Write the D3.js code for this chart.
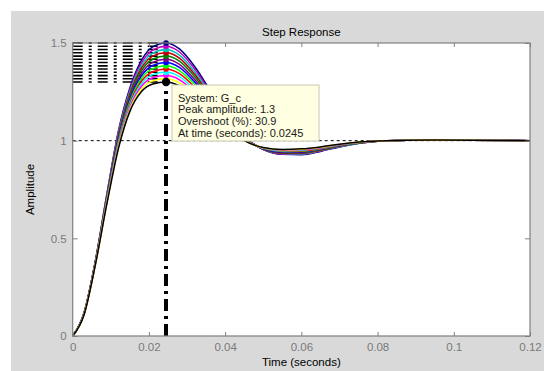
<!DOCTYPE html>
<html>
<head>
<meta charset="utf-8">
<script src="https://cdn.jsdelivr.net/npm/d3@7"></script>
<style>
  body { margin: 0; background: #fff; }
  svg { display: block; font-family: "Liberation Sans", Arial, sans-serif; }
</style>
</head>
<body>
<svg id="chart" width="544" height="371"></svg>
<script>
// time samples (seconds), shared by every response
const times = [0, 0.003, 0.006, 0.009, 0.012, 0.015, 0.018, 0.021, 0.0245, 0.028, 0.032,
               0.036, 0.040, 0.045, 0.050, 0.055, 0.060, 0.065, 0.070, 0.080, 0.095, 0.120];

// step responses, lowest peak first
const responses = [
  [0,.110,.370,.680,.960,1.150,1.250,1.290,1.300,1.280,1.220,1.140,1.070,1.000,.965,.955,.958,.968,.982,.998,1.003,1.000],
  [0,.111,.372,.684,.968,1.160,1.263,1.306,1.317,1.296,1.233,1.150,1.076,1.002,.964,.953,.956,.966,.981,.998,1.003,1.000],
  [0,.112,.373,.688,.975,1.170,1.277,1.322,1.333,1.312,1.247,1.160,1.082,1.003,.963,.951,.953,.964,.980,.998,1.003,1.000],
  [0,.113,.375,.693,.983,1.180,1.290,1.338,1.350,1.328,1.260,1.170,1.088,1.005,.962,.949,.951,.962,.979,.998,1.004,1.000],
  [0,.113,.377,.697,.990,1.190,1.303,1.353,1.367,1.343,1.273,1.180,1.093,1.007,.962,.947,.948,.960,.977,.998,1.004,1.000],
  [0,.114,.378,.701,.998,1.200,1.317,1.369,1.383,1.359,1.287,1.190,1.099,1.008,.961,.945,.946,.958,.976,.998,1.004,1.000],
  [0,.115,.380,.705,1.005,1.210,1.330,1.385,1.400,1.375,1.300,1.200,1.105,1.010,.960,.943,.943,.957,.975,.998,1.004,1.000],
  [0,.116,.382,.709,1.013,1.220,1.343,1.401,1.417,1.391,1.313,1.210,1.111,1.012,.959,.940,.941,.955,.974,.998,1.004,1.000],
  [0,.117,.383,.713,1.020,1.230,1.357,1.417,1.433,1.407,1.327,1.220,1.117,1.013,.958,.938,.938,.953,.973,.997,1.004,1.000],
  [0,.118,.385,.718,1.028,1.240,1.370,1.433,1.450,1.423,1.340,1.230,1.123,1.015,.957,.936,.936,.951,.972,.997,1.005,1.000],
  [0,.118,.387,.722,1.035,1.250,1.383,1.448,1.467,1.438,1.353,1.240,1.128,1.017,.957,.934,.933,.949,.970,.997,1.005,1.000],
  [0,.119,.388,.726,1.043,1.260,1.397,1.464,1.483,1.454,1.367,1.250,1.134,1.018,.956,.932,.931,.947,.969,.997,1.005,1.000],
  [0,.120,.390,.730,1.050,1.270,1.410,1.480,1.500,1.470,1.380,1.260,1.140,1.020,.955,.930,.928,.945,.968,.997,1.005,1.000]
];
const peakIndex = 8;   // where every response peaks (t = 0.0245 s)
const steadyState = 1;

const colors = ["#000000", "#ffff00", "#ff00ff", "#00ffff", "#ff0000", "#00ff00", "#0000ff",
                "#800080", "#008000", "#c00000", "#00c0c0", "#c000c0", "#000080"];

const xTicks = [0, 0.02, 0.04, 0.06, 0.08, 0.1, 0.12];
const xTickLabels = ["0", "0.02", "0.04", "0.06", "0.08", "0.1", "0.12"];
const yTicks = [0, 0.5, 1, 1.5];
const yTickLabels = ["0", "0.5", "1", "1.5"];

const tipLines = ["System: G_c", "Peak amplitude: 1.3", "Overshoot (%): 30.9", "At time (seconds): 0.0245"];

let svg = d3.select("#chart");

// figure background
svg.append("rect").attr("x", 11).attr("y", 11).attr("width", 533).attr("height", 360).attr("fill", "#d9d9d9");

let margin = {left: 72.7, top: 43, right: 530, bottom: 336};

let x = d3.scaleLinear().domain([0, 0.12]).range([margin.left, margin.right]);
let y = d3.scaleLinear().domain([0, 1.5]).range([margin.bottom, margin.top]);

svg.append("rect")
    .attr("x", margin.left).attr("y", margin.top)
    .attr("width", margin.right - margin.left).attr("height", margin.bottom - margin.top)
    .attr("fill", "#fff");

// steady state line
svg.append("line")
    .attr("x1", x(0)).attr("x2", x(0.12))
    .attr("y1", y(steadyState)).attr("y2", y(steadyState))
    .attr("stroke", "#000").attr("stroke-width", 1).attr("stroke-dasharray", "3,3");

// peak response guide lines
let peakT = times[peakIndex];
for (let r of responses) {
    svg.append("line")
        .attr("x1", x(0)).attr("x2", x(peakT))
        .attr("y1", y(r[peakIndex])).attr("y2", y(r[peakIndex]))
        .attr("stroke", "#000").attr("stroke-width", 1.6)
        .attr("stroke-dasharray", "10,6,3,6");
    svg.append("line")
        .attr("x1", x(peakT)).attr("x2", x(peakT))
        .attr("y1", y(0)).attr("y2", y(r[peakIndex]))
        .attr("stroke", "#000").attr("stroke-width", 3.5)
        .attr("stroke-dasharray", "12,5,3,5");
}

let line = d3.line()
    .curve(d3.curveMonotoneX)
    .x((d, i) => x(times[i]))
    .y(d => y(d));

// draw the highest peak first so that the low curves sit on top
for (let i = responses.length - 1; i >= 0; i--) {
    svg.append("path")
        .datum(responses[i])
        .attr("fill", "none")
        .attr("stroke", colors[i])
        .attr("stroke-width", 1.5)
        .attr("stroke-linejoin", "round")
        .attr("d", line);
}

// peak markers
svg.selectAll("circle.peak")
    .data(responses)
  .enter()
    .append("circle")
    .attr("class", "peak")
    .attr("r", 2.8)
    .attr("fill", (d, i) => colors[i])
    .attr("cx", x(peakT))
    .attr("cy", d => y(d[peakIndex]));

// axes (ticks point inward)
let xAxis = svg.append("g")
    .attr("transform", "translate(0," + margin.bottom + ")")
    .call(d3.axisBottom(x).tickValues(xTicks).tickSize(-4).tickPadding(7)
        .tickFormat((d, i) => xTickLabels[i]));
let xAxisTop = svg.append("g")
    .attr("transform", "translate(0," + margin.top + ")")
    .call(d3.axisTop(x).tickValues(xTicks).tickSize(-4).tickFormat(""));
let yAxis = svg.append("g")
    .attr("transform", "translate(" + margin.left + ",0)")
    .call(d3.axisLeft(y).tickValues(yTicks).tickSize(-5).tickPadding(6)
        .tickFormat((d, i) => yTickLabels[i]));
let yAxisRight = svg.append("g")
    .attr("transform", "translate(" + margin.right + ",0)")
    .call(d3.axisRight(y).tickValues(yTicks).tickSize(-5).tickFormat(""));

for (let g of [xAxis, xAxisTop, yAxis, yAxisRight]) {
    g.select(".domain").remove();
    g.selectAll(".tick line").attr("stroke", "#808080");
    g.selectAll(".tick text").attr("fill", "#7a7a7a").style("font-size", "11.5px")
        .style("font-family", "'Liberation Sans', Arial, sans-serif");
}

// frame
svg.append("rect")
    .attr("x", margin.left).attr("y", margin.top)
    .attr("width", margin.right - margin.left).attr("height", margin.bottom - margin.top)
    .attr("fill", "none").attr("stroke", "#7f7f7f").attr("stroke-width", 1.2);

// selected point and data tip
let selected = responses[0];
svg.append("circle")
    .attr("cx", x(peakT)).attr("cy", y(selected[peakIndex]))
    .attr("r", 4.2).attr("fill", "#000");

let tip = svg.append("g").attr("transform", "translate(172,85)");
tip.append("rect")
    .attr("width", 147).attr("height", 56)
    .attr("fill", "#ffffe1").attr("stroke", "#c8c8b4").attr("stroke-width", 1);
tip.selectAll("text")
    .data(tipLines)
  .enter()
    .append("text")
    .attr("x", 6)
    .attr("y", (d, i) => 16.5 + i * 11.8)
    .attr("fill", "#1a1a1a")
    .style("font-size", "11px")
    .text(d => d);

// titles
svg.append("text")
    .attr("x", (margin.left + margin.right) / 2).attr("y", 36)
    .attr("text-anchor", "middle").style("font-size", "11.5px").attr("fill", "#000")
    .text("Step Response");
svg.append("text")
    .attr("x", (margin.left + margin.right) / 2).attr("y", 366)
    .attr("text-anchor", "middle").style("font-size", "11.5px").attr("fill", "#000")
    .text("Time (seconds)");
svg.append("text")
    .attr("transform", "translate(34," + (margin.top + margin.bottom) / 2 + ") rotate(-90)")
    .attr("text-anchor", "middle").style("font-size", "11.5px").attr("fill", "#000")
    .text("Amplitude");
</script>
</body>
</html>
